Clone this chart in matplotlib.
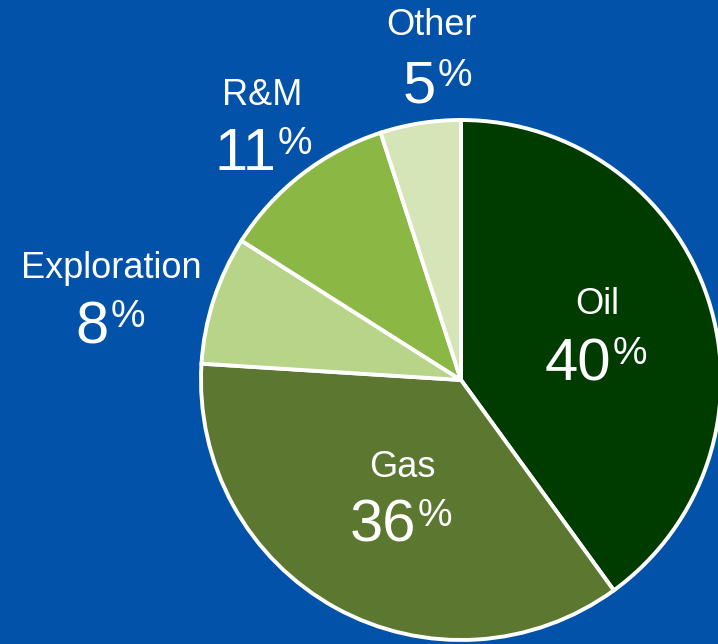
import matplotlib.pyplot as plt

plt.rcParams['font.family'] = ['Liberation Sans', 'DejaVu Sans']

labels = ['Oil', 'Gas', 'Exploration', 'R&M', 'Other']
shares = [40, 36, 8, 11, 5]
colors = ['#003C00', '#5B7730', '#B7D489', '#8BB744', '#D5E5B8']

# label anchors in pixels: (centre x of name, name baseline, x where number meets %, number baseline)
label_pos = [(597, 314, 611, 380),
             (402, 477, 416, 542),
             (111, 278, 109, 343),
             (262, 105, 276, 170),
             (432, 35, 436, 102)]

W, H = 718, 644
bg = '#0352AA'

fig = plt.figure(figsize=(W / 100, H / 100), dpi=100, facecolor=bg)
ax = fig.add_axes([0, 0, 1, 1])
ax.set_facecolor(bg)

ax.pie(shares, colors=colors, startangle=90, counterclock=False,
       center=(461, H - 380), radius=260,
       wedgeprops=dict(edgecolor='white', linewidth=2.8))

for name, val, (nx, ny, jx, by) in zip(labels, shares, label_pos):
    ax.text(nx, H - ny, name, color='white', fontsize=26,
            ha='center', va='baseline')
    ax.text(jx, H - by, str(val), color='white', fontsize=43,
            ha='right', va='baseline')
    ax.text(jx + 2, H - by + 44, '%', color='white', fontsize=28,
            ha='left', va='top')

ax.set_xlim(0, W)
ax.set_ylim(0, H)
ax.set_aspect('equal')
ax.axis('off')

fig.savefig('out.png', dpi=100, facecolor=bg)
